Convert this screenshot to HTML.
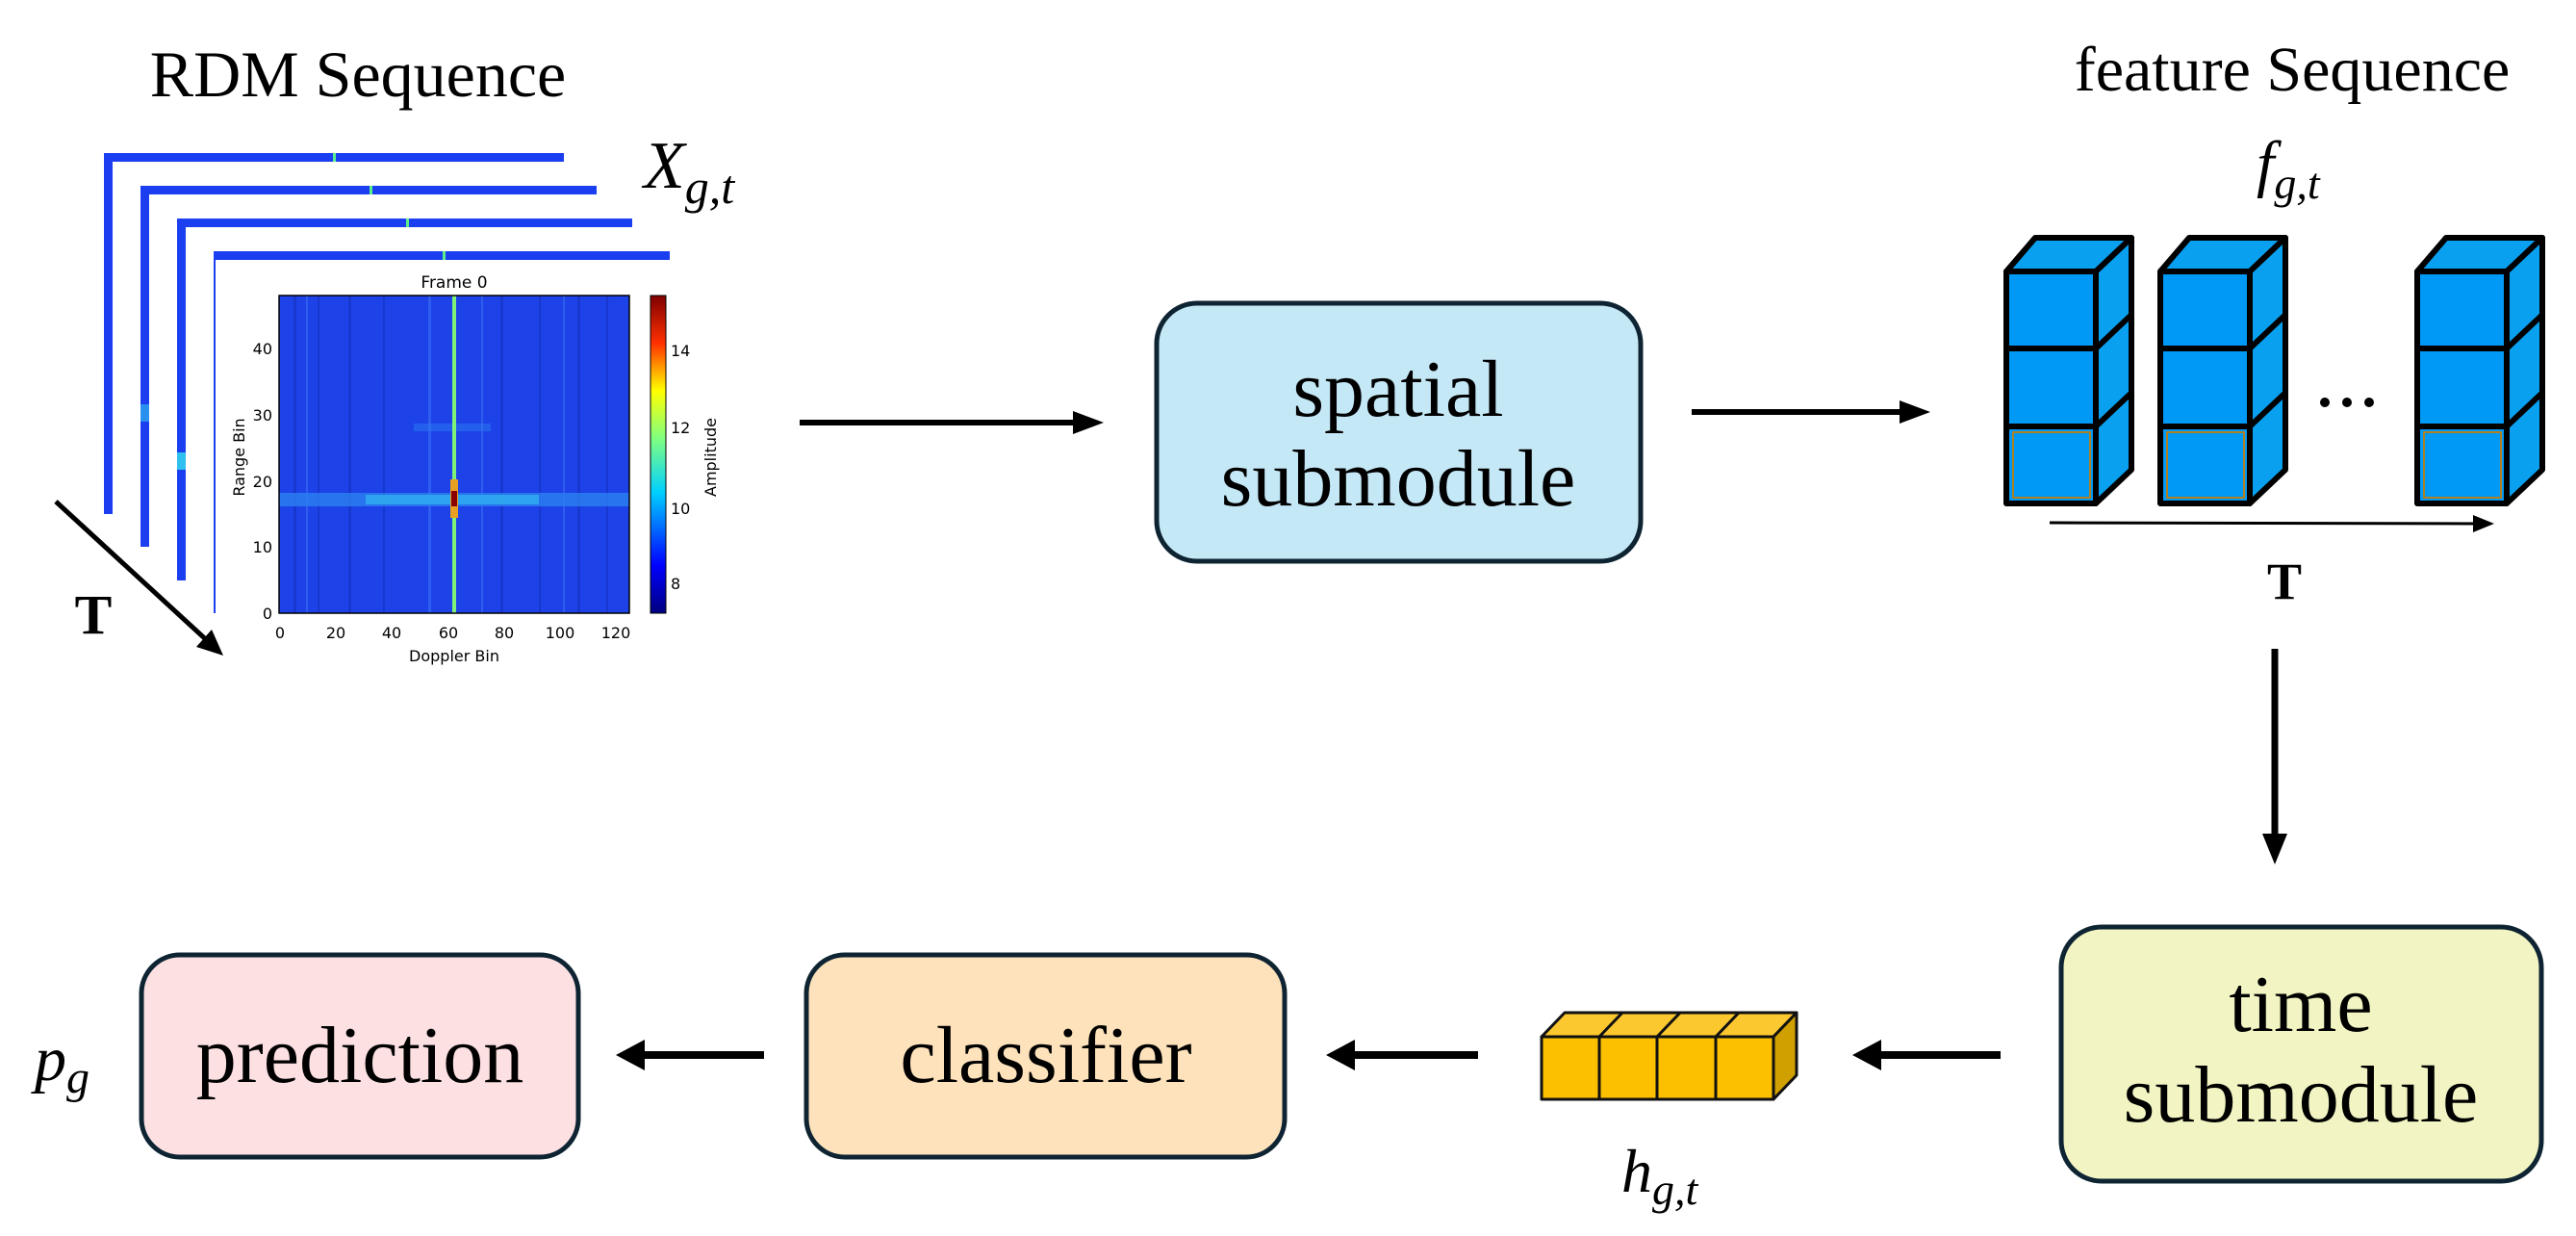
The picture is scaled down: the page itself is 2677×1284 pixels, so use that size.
<!DOCTYPE html>
<html><head><meta charset="utf-8"><style>
html,body{margin:0;padding:0;background:#fff}
svg{display:block}
text{font-family:"Liberation Serif",serif}
text.sans{font-family:"DejaVu Sans","Liberation Sans",sans-serif}
</style></head><body>
<svg width="2677" height="1284" viewBox="0 0 2677 1284" xmlns="http://www.w3.org/2000/svg">
<!-- RDM title -->
<text x="372" y="100" font-size="68" text-anchor="middle">RDM Sequence</text>
<text x="669" y="195" font-size="70" font-style="italic">X<tspan font-size="50" dy="16">g,t</tspan></text>
<!-- stacked frames -->
<g fill="#1a3ef0">
<rect x="108" y="159" width="478" height="9"/><rect x="108" y="159" width="9" height="375"/>
<rect x="146" y="193" width="474" height="9"/><rect x="146" y="193" width="9" height="375"/>
<rect x="184" y="227" width="473" height="9"/><rect x="184" y="227" width="9" height="376"/>
<rect x="222" y="261" width="474" height="9"/><rect x="222" y="261" width="2" height="376"/>
</g>
<rect x="346" y="159" width="3" height="9" fill="#5cf08a"/>
<rect x="384" y="193" width="3" height="9" fill="#5cf08a"/>
<rect x="422" y="227" width="3" height="9" fill="#5cf08a"/>
<rect x="460" y="261" width="3" height="9" fill="#5cf08a"/>
<rect x="146" y="420" width="9" height="18" fill="#2a90f0"/>
<rect x="184" y="470" width="9" height="18" fill="#30c0f0"/>
<!-- heatmap -->
<rect x="290" y="307" width="364" height="330" fill="#1d43e8"/>
<g fill="#1530c0" opacity="0.6">
<rect x="305" y="307" width="3" height="330"/><rect x="330" y="307" width="2" height="330"/><rect x="362" y="307" width="3" height="330"/>
<rect x="398" y="307" width="2" height="330"/><rect x="520" y="307" width="3" height="330"/><rect x="560" y="307" width="2" height="330"/>
<rect x="600" y="307" width="3" height="330"/><rect x="630" y="307" width="2" height="330"/>
</g>
<g fill="#3a70f5" opacity="0.6">
<rect x="318" y="307" width="2" height="330"/><rect x="445" y="307" width="3" height="330"/><rect x="500" y="307" width="2" height="330"/><rect x="585" y="307" width="2" height="330"/>
</g>
<rect x="290" y="512" width="364" height="14" fill="#2a7cf0" opacity="0.85"/>
<rect x="380" y="514" width="180" height="10" fill="#30b8f0" opacity="0.7"/>
<rect x="430" y="440" width="80" height="8" fill="#2a7cf0" opacity="0.5"/>
<rect x="470" y="307" width="4" height="330" fill="#7ff07a"/>
<rect x="468" y="498" width="8" height="40" fill="#e8a020"/>
<rect x="469" y="510" width="6" height="16" fill="#8a0000"/>
<rect x="290" y="307" width="364" height="330" fill="none" stroke="#000" stroke-width="1.5"/>
<text class="sans" x="472" y="299" font-size="17" text-anchor="middle">Frame 0</text>
<g font-size="16">
<text class="sans" x="283" y="368" text-anchor="end">40</text><text class="sans" x="283" y="437" text-anchor="end">30</text>
<text class="sans" x="283" y="506" text-anchor="end">20</text><text class="sans" x="283" y="574" text-anchor="end">10</text>
<text class="sans" x="283" y="643" text-anchor="end">0</text>
<text class="sans" x="291" y="663" text-anchor="middle">0</text><text class="sans" x="349" y="663" text-anchor="middle">20</text>
<text class="sans" x="407" y="663" text-anchor="middle">40</text><text class="sans" x="466" y="663" text-anchor="middle">60</text>
<text class="sans" x="524" y="663" text-anchor="middle">80</text><text class="sans" x="582" y="663" text-anchor="middle">100</text>
<text class="sans" x="640" y="663" text-anchor="middle">120</text>
<text class="sans" x="472" y="687" text-anchor="middle">Doppler Bin</text>
<text class="sans" transform="translate(254,475) rotate(-90)" text-anchor="middle">Range Bin</text>
<text class="sans" x="697" y="370">14</text><text class="sans" x="697" y="450">12</text><text class="sans" x="697" y="534">10</text><text class="sans" x="697" y="612">8</text>
<text class="sans" transform="translate(744,475) rotate(-90)" text-anchor="middle">Amplitude</text>
</g>
<defs><linearGradient id="jet" x1="0" y1="1" x2="0" y2="0">
<stop offset="0" stop-color="#00007f"/><stop offset="0.15" stop-color="#0000ff"/><stop offset="0.38" stop-color="#00d0ff"/><stop offset="0.55" stop-color="#80ff80"/><stop offset="0.7" stop-color="#ffff00"/><stop offset="0.85" stop-color="#ff3000"/><stop offset="1" stop-color="#7f0000"/></linearGradient></defs>
<rect x="676" y="307" width="16" height="330" fill="url(#jet)" stroke="#000" stroke-width="1"/>
<!-- T arrow -->
<line x1="58" y1="521" x2="218" y2="668" stroke="#000" stroke-width="5"/>
<polygon points="232,681 204,672 220,654" fill="#000"/>
<text x="97" y="658" font-size="58" font-weight="bold" text-anchor="middle">T</text>
<!-- arrow to spatial -->
<line x1="831" y1="439" x2="1120" y2="439" stroke="#000" stroke-width="6"/>
<polygon points="1147,439 1115,427 1115,451" fill="#000"/>
<!-- spatial -->
<rect x="1202" y="315" width="503" height="268" rx="42" fill="#c5e8f6" stroke="#0e2432" stroke-width="5"/>
<text x="1453" y="432" font-size="84" text-anchor="middle">spatial</text>
<text x="1453" y="525" font-size="84" text-anchor="middle">submodule</text>
<!-- arrow to features -->
<line x1="1758" y1="428" x2="1980" y2="428" stroke="#000" stroke-width="6"/>
<polygon points="2006,428 1974,416 1974,440" fill="#000"/>
<text x="2382" y="94" font-size="66" text-anchor="middle">feature Sequence</text>
<text x="2345" y="192" font-size="66" font-style="italic">f<tspan font-size="46" dy="14">g,t</tspan></text>
<!-- columns -->
<g stroke="#000" stroke-width="6" stroke-linejoin="round">
<g id="col">
<polygon points="2085,282 2115,247 2215,247 2178,282" fill="#0aa0f0"/>
<polygon points="2178,282 2215,247 2215,488 2178,523" fill="#0aa0f0"/>
<rect x="2085" y="282" width="93" height="241" fill="#0099f5"/>
<line x1="2085" y1="362" x2="2178" y2="362"/><line x1="2085" y1="443" x2="2178" y2="443"/>
<line x1="2178" y1="362" x2="2215" y2="327"/><line x1="2178" y1="443" x2="2215" y2="408"/>
<rect x="2092" y="449" width="80" height="68" fill="none" stroke="#b08020" stroke-width="2"/>
</g>
<use href="#col" x="160"/>
<use href="#col" x="427"/>
</g>
<g fill="#000"><circle cx="2416" cy="418" r="5"/><circle cx="2439" cy="418" r="5"/><circle cx="2462" cy="418" r="5"/></g>
<line x1="2130" y1="543" x2="2575" y2="544" stroke="#000" stroke-width="3"/>
<polygon points="2592,544 2570,535 2570,553" fill="#000"/>
<text x="2374" y="622" font-size="54" font-weight="bold" text-anchor="middle">T</text>
<!-- vertical arrow -->
<line x1="2364" y1="674" x2="2364" y2="870" stroke="#000" stroke-width="7"/>
<polygon points="2364,898 2351,866 2377,866" fill="#000"/>
<!-- time submodule -->
<rect x="2142" y="963" width="499" height="264" rx="42" fill="#f2f4c3" stroke="#0e2432" stroke-width="5"/>
<text x="2391" y="1071" font-size="84" text-anchor="middle">time</text>
<text x="2391" y="1165" font-size="84" text-anchor="middle">submodule</text>
<!-- arrow to block -->
<line x1="2079" y1="1096" x2="1950" y2="1096" stroke="#000" stroke-width="8"/>
<polygon points="1925,1096 1955,1080 1955,1112" fill="#000"/>
<!-- yellow block -->
<g stroke="#111" stroke-width="3" stroke-linejoin="round">
<polygon points="1602,1077 1626,1052 1867,1052 1843,1077" fill="#fcc830"/>
<polygon points="1843,1077 1867,1052 1867,1117 1843,1142" fill="#d0a000"/>
<rect x="1602" y="1077" width="241" height="65" fill="#fcc000"/>
<line x1="1662" y1="1077" x2="1662" y2="1142"/><line x1="1722" y1="1077" x2="1722" y2="1142"/><line x1="1783" y1="1077" x2="1783" y2="1142"/>
<line x1="1662" y1="1077" x2="1686" y2="1052"/><line x1="1722" y1="1077" x2="1746" y2="1052"/><line x1="1783" y1="1077" x2="1807" y2="1052"/>
</g>
<text x="1685" y="1238" font-size="64" font-style="italic">h<tspan font-size="46" dy="13">g,t</tspan></text>
<!-- arrow to classifier -->
<line x1="1536" y1="1096" x2="1402" y2="1096" stroke="#000" stroke-width="8"/>
<polygon points="1378,1096 1408,1080 1408,1112" fill="#000"/>
<!-- classifier -->
<rect x="838" y="992" width="497" height="210" rx="40" fill="#fde2bb" stroke="#0e2432" stroke-width="5"/>
<text x="1087" y="1124" font-size="84" text-anchor="middle">classifier</text>
<!-- arrow to prediction -->
<line x1="794" y1="1096" x2="664" y2="1096" stroke="#000" stroke-width="8"/>
<polygon points="640,1096 670,1080 670,1112" fill="#000"/>
<!-- prediction -->
<rect x="147" y="992" width="454" height="210" rx="40" fill="#fce0e2" stroke="#0e2432" stroke-width="5"/>
<text x="374" y="1124" font-size="84" text-anchor="middle">prediction</text>
<text x="36" y="1122" font-size="66" font-style="italic">p<tspan font-size="48" dy="13">g</tspan></text>
</svg>
</body></html>
